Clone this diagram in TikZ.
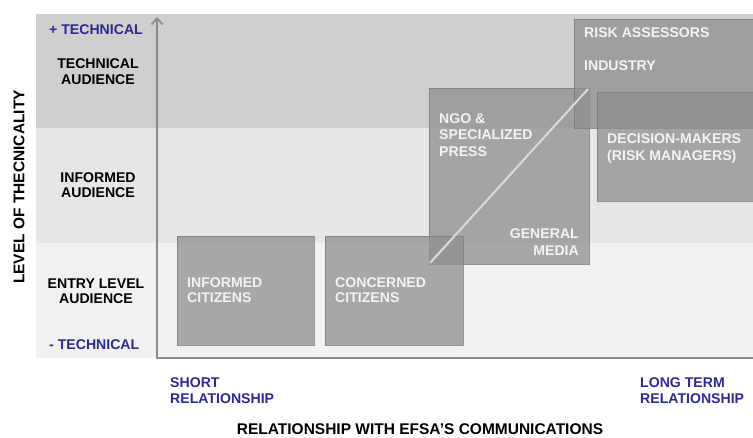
\documentclass[tikz,border=0pt]{standalone}
\usepackage{fontspec}
\setmainfont{Liberation Sans}
\usetikzlibrary{arrows.meta}
\definecolor{bandA}{RGB}{207,207,207}
\definecolor{bandB}{RGB}{230,230,230}
\definecolor{bandC}{RGB}{241,241,241}
\definecolor{boxfill}{RGB}{143,143,143}
\definecolor{boxline}{RGB}{125,125,125}
\definecolor{axisgray}{RGB}{138,138,138}
\definecolor{navy}{RGB}{44,42,140}
\definecolor{boxtext}{RGB}{243,243,243}
\definecolor{diag}{RGB}{218,218,218}
\begin{document}
\begin{tikzpicture}[x=1pt,y=-1pt,
  lab/.style={font=\fontsize{14.1}{16}\selectfont\bfseries, inner sep=0pt},
  darklab/.style={lab, text=black},
  bluelab/.style={lab, text=navy},
  boxlab/.style={lab, text=boxtext},
  titlelab/.style={font=\fontsize{15.5}{18}\selectfont\bfseries, inner sep=0pt, text=black},
  aud/.style={fill=boxfill, fill opacity=0.75, draw=boxline, draw opacity=0.8, line width=0.8pt},
  axisline/.style={draw=axisgray, line width=2.2pt}
]
\useasboundingbox (0,0) rectangle (753,437);
% bands
\fill[bandA] (36,14) rectangle (753,128);
\fill[bandB] (36,128) rectangle (753,243);
\fill[bandC] (36,243) rectangle (753,358);
% audience boxes
\path[aud] (429,88) rectangle (589,264);
\path[aud] (574,19) rectangle (753,128);
\path[aud] (597,92) rectangle (753,201);
\path[aud] (177,236) rectangle (314,345);
\path[aud] (325,236) rectangle (463,345);
% diagonal
\draw[diag, line width=2pt] (430,263) -- (588,89);
% axes
\draw[axisline, {Straight Barb[length=6pt,width=11pt,line width=1.8pt]}-] (157,17) -- (157,358) -- (753,358);
% left labels
\node[bluelab, anchor=base west] (plus) at (49,34) {+ TECHNICAL};
\node[darklab, anchor=base] (ta1) at (98,68) {TECHNICAL};
\node[darklab, anchor=base] (ta2) at (98,84) {AUDIENCE};
\node[darklab, anchor=base] (ia1) at (98,182) {INFORMED};
\node[darklab, anchor=base] (ia2) at (98,197) {AUDIENCE};
\node[darklab, anchor=base] (ea1) at (96,288) {ENTRY LEVEL};
\node[darklab, anchor=base] (ea2) at (96,303) {AUDIENCE};
\node[bluelab, anchor=base west] (minus) at (49,349) {- TECHNICAL};
\node[titlelab, rotate=90] (ytitle) at (19,187) {LEVEL OF THECNICALITY};
% bottom labels
\node[bluelab, anchor=base west] (sr1) at (170,387) {SHORT};
\node[bluelab, anchor=base west] (sr2) at (170,403) {RELATIONSHIP};
\node[bluelab, anchor=base west] (lt1) at (640,387) {LONG TERM};
\node[bluelab, anchor=base west] (lt2) at (640,403) {RELATIONSHIP};
\node[titlelab, anchor=base] (xtitle) at (420,434) {RELATIONSHIP WITH EFSA’S COMMUNICATIONS};
% box labels
\node[boxlab, anchor=base west] (ic1) at (187,287) {INFORMED};
\node[boxlab, anchor=base west] (ic2) at (187,302) {CITIZENS};
\node[boxlab, anchor=base west] (cc1) at (335,287) {CONCERNED};
\node[boxlab, anchor=base west] (cc2) at (335,302) {CITIZENS};
\node[boxlab, anchor=base west] (ngo1) at (439,123) {NGO \&};
\node[boxlab, anchor=base west] (ngo2) at (439,139.5) {SPECIALIZED};
\node[boxlab, anchor=base west] (ngo3) at (439,156) {PRESS};
\node[boxlab, anchor=base east] (gm1) at (579,238) {GENERAL};
\node[boxlab, anchor=base east] (gm2) at (579,255) {MEDIA};
\node[boxlab, anchor=base west] (ra) at (584,37) {RISK ASSESSORS};
\node[boxlab, anchor=base west] (ind) at (584,70) {INDUSTRY};
\node[boxlab, anchor=base west] (dm1) at (607,143) {DECISION-MAKERS};
\node[boxlab, anchor=base west] (dm2) at (607,160) {(RISK MANAGERS)};
\end{tikzpicture}
\end{document}
